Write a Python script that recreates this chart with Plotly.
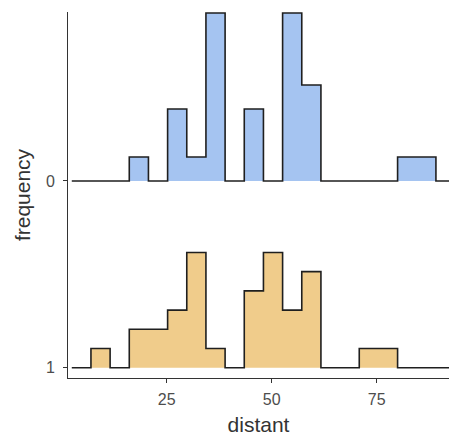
import plotly.graph_objects as go

# ---- data ----
bin_start = 2.4
bin_width = 4.5625
group_labels = ["0", "1"]          # top, bottom
counts_0 = [0, 0, 0, 1, 0, 3, 1, 7, 0, 3, 0, 7, 4, 0, 0, 0, 0, 1, 1, 0, 0]
counts_1 = [0, 1, 0, 2, 2, 3, 6, 1, 0, 4, 6, 3, 5, 0, 0, 1, 1, 0, 0, 0, 0]
x_ticks = [25, 50, 75]

# ---- styling ----
fills = {"0": "#A5C4F1", "1": "#F0CC8B"}
outline = "#1f1f1f"
ridge_scale = 0.9
font_family = "Arial, Liberation Sans, sans-serif"

groups = {"0": counts_0, "1": counts_1}
ypos = {"0": 2, "1": 1}

fracs = {g: [c / sum(v) for c in v] for g, v in groups.items()}
max_frac = max(max(f) for f in fracs.values())

fig = go.Figure()
for g in ["0", "1"]:
    base = ypos[g]
    fr = fracs[g]
    xs, ys = [], []
    edges = [bin_start + i * bin_width for i in range(len(fr) + 1)]
    xs.append(edges[0]); ys.append(base)
    for i, f in enumerate(fr):
        h = base + f / max_frac * ridge_scale
        xs += [edges[i], edges[i + 1]]
        ys += [h, h]
    xs.append(edges[-1]); ys.append(base)
    fig.add_trace(go.Scatter(x=xs, y=ys, mode="lines", fill="toself",
                             fillcolor=fills[g], line=dict(width=0),
                             hoverinfo="skip", showlegend=False))
    fig.add_trace(go.Scatter(x=xs, y=ys, mode="lines",
                             line=dict(color=outline, width=1.6),
                             showlegend=False))

fig.update_layout(
    width=449, height=441,
    margin=dict(l=68, r=0, t=12, b=63),
    plot_bgcolor="white", paper_bgcolor="white",
    font=dict(family=font_family),
    showlegend=False,
)
fig.update_xaxes(
    range=[1.5, 92.2], tickvals=x_ticks, ticktext=[str(t) for t in x_ticks],
    showgrid=False, zeroline=False, showline=True, linecolor="#333333", linewidth=1,
    ticks="outside", ticklen=4, tickcolor="#333333", tickwidth=1,
    ticklabelstandoff=3,
    tickfont=dict(size=16, color="#4D4D4D"),
    title=dict(text="distant", font=dict(size=21, color="#333333"), standoff=10),
)
fig.update_yaxes(
    range=[0.9448, 2.905], tickvals=[ypos[g] for g in group_labels], ticktext=group_labels,
    showgrid=False, zeroline=False, showline=True, linecolor="#333333", linewidth=1,
    ticks="outside", ticklen=4, tickcolor="#333333", tickwidth=1,
    ticklabelstandoff=5,
    tickfont=dict(size=16, color="#4D4D4D"),
    title=dict(text="frequency", font=dict(size=21, color="#333333"), standoff=9),
)

fig.write_html("out.html")
